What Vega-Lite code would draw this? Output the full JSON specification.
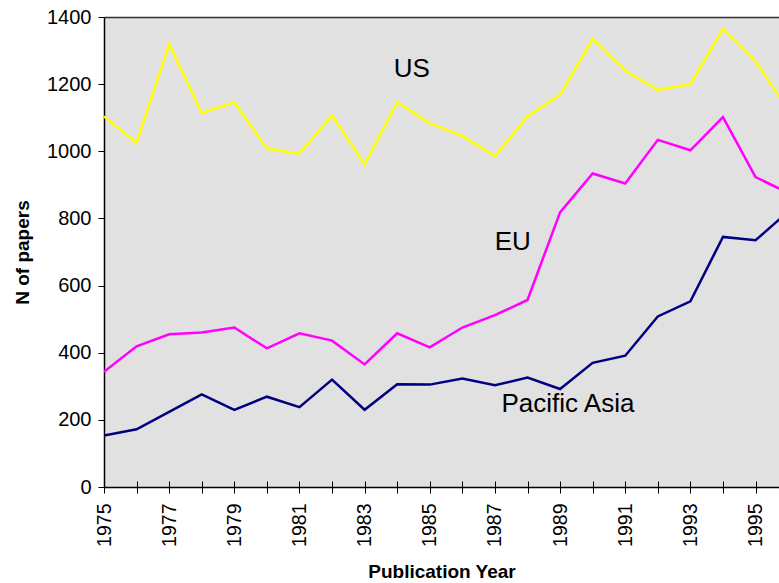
{
  "$schema": "https://vega.github.io/schema/vega-lite/v6.json",
  "width": 675,
  "height": 470,
  "autosize": "none",
  "padding": {"left": 104, "top": 17, "right": 0, "bottom": 96},
  "background": "#ffffff",
  "config": {
    "view": {"stroke": null, "fill": "#e1e1e1"},
    "font": "Liberation Sans",
    "axis": {"grid": false, "domainColor": "#000000", "tickColor": "#000000", "labelColor": "#000000", "titleColor": "#000000", "labelFont": "Liberation Sans", "titleFont": "Liberation Sans"}
  },
  "datasets": {
    "series": [
      {"year": 1975, "region": "US", "papers": 1104},
      {"year": 1976, "region": "US", "papers": 1025},
      {"year": 1977, "region": "US", "papers": 1320},
      {"year": 1978, "region": "US", "papers": 1114},
      {"year": 1979, "region": "US", "papers": 1146},
      {"year": 1980, "region": "US", "papers": 1008},
      {"year": 1981, "region": "US", "papers": 993},
      {"year": 1982, "region": "US", "papers": 1107},
      {"year": 1983, "region": "US", "papers": 961},
      {"year": 1984, "region": "US", "papers": 1146},
      {"year": 1985, "region": "US", "papers": 1084},
      {"year": 1986, "region": "US", "papers": 1046},
      {"year": 1987, "region": "US", "papers": 985},
      {"year": 1988, "region": "US", "papers": 1104},
      {"year": 1989, "region": "US", "papers": 1168},
      {"year": 1990, "region": "US", "papers": 1335},
      {"year": 1991, "region": "US", "papers": 1240},
      {"year": 1992, "region": "US", "papers": 1183},
      {"year": 1993, "region": "US", "papers": 1200},
      {"year": 1994, "region": "US", "papers": 1365},
      {"year": 1995, "region": "US", "papers": 1268},
      {"year": 1996, "region": "US", "papers": 1125},
      {"year": 1975, "region": "EU", "papers": 343},
      {"year": 1976, "region": "EU", "papers": 419},
      {"year": 1977, "region": "EU", "papers": 455},
      {"year": 1978, "region": "EU", "papers": 460},
      {"year": 1979, "region": "EU", "papers": 475},
      {"year": 1980, "region": "EU", "papers": 413},
      {"year": 1981, "region": "EU", "papers": 458},
      {"year": 1982, "region": "EU", "papers": 436},
      {"year": 1983, "region": "EU", "papers": 365},
      {"year": 1984, "region": "EU", "papers": 458},
      {"year": 1985, "region": "EU", "papers": 416},
      {"year": 1986, "region": "EU", "papers": 475},
      {"year": 1987, "region": "EU", "papers": 512},
      {"year": 1988, "region": "EU", "papers": 557},
      {"year": 1989, "region": "EU", "papers": 818},
      {"year": 1990, "region": "EU", "papers": 934},
      {"year": 1991, "region": "EU", "papers": 904},
      {"year": 1992, "region": "EU", "papers": 1034},
      {"year": 1993, "region": "EU", "papers": 1003},
      {"year": 1994, "region": "EU", "papers": 1102},
      {"year": 1995, "region": "EU", "papers": 923},
      {"year": 1996, "region": "EU", "papers": 876},
      {"year": 1975, "region": "Pacific Asia", "papers": 153},
      {"year": 1976, "region": "Pacific Asia", "papers": 172},
      {"year": 1977, "region": "Pacific Asia", "papers": 224},
      {"year": 1978, "region": "Pacific Asia", "papers": 276},
      {"year": 1979, "region": "Pacific Asia", "papers": 230},
      {"year": 1980, "region": "Pacific Asia", "papers": 269},
      {"year": 1981, "region": "Pacific Asia", "papers": 238},
      {"year": 1982, "region": "Pacific Asia", "papers": 320},
      {"year": 1983, "region": "Pacific Asia", "papers": 230},
      {"year": 1984, "region": "Pacific Asia", "papers": 306},
      {"year": 1985, "region": "Pacific Asia", "papers": 305},
      {"year": 1986, "region": "Pacific Asia", "papers": 323},
      {"year": 1987, "region": "Pacific Asia", "papers": 303},
      {"year": 1988, "region": "Pacific Asia", "papers": 326},
      {"year": 1989, "region": "Pacific Asia", "papers": 292},
      {"year": 1990, "region": "Pacific Asia", "papers": 370},
      {"year": 1991, "region": "Pacific Asia", "papers": 391},
      {"year": 1992, "region": "Pacific Asia", "papers": 508},
      {"year": 1993, "region": "Pacific Asia", "papers": 553},
      {"year": 1994, "region": "Pacific Asia", "papers": 745},
      {"year": 1995, "region": "Pacific Asia", "papers": 735},
      {"year": 1996, "region": "Pacific Asia", "papers": 820}
    ],
    "labels": [
      {"label": "US", "year": 1984.45, "papers": 1220},
      {"label": "EU", "year": 1987.55, "papers": 706},
      {"label": "Pacific Asia", "year": 1989.24, "papers": 223}
    ]
  },
  "resolve": {"axis": {"x": "independent", "y": "independent"}},
  "layer": [
    {
      "data": {"name": "series"},
      "mark": {"type": "line", "clip": true, "strokeWidth": 2.5},
      "encoding": {
        "x": {
          "field": "year", "type": "quantitative",
          "scale": {"domain": [1975, 1995.72], "nice": false, "zero": false},
          "axis": {
            "orient": "bottom",
            "values": [1975, 1976, 1977, 1978, 1979, 1980, 1981, 1982, 1983, 1984, 1985, 1986, 1987, 1988, 1989, 1990, 1991, 1992, 1993, 1994, 1995],
            "format": "d",
            "labelExpr": "datum.value % 2 == 1 ? datum.label : ''",
            "labelAngle": -90,
            "labelAlign": "right",
            "labelBaseline": "middle",
            "labelFontSize": 19.5,
            "labelPadding": 10,
            "labelFlush": false,
            "labelOverlap": false,
            "tickSize": 6,
            "tickWidth": 1,
            "domainWidth": 1.3,
            "title": "Publication Year",
            "titleFontSize": 19,
            "titleFontWeight": "bold",
            "titlePadding": 16
          }
        },
        "y": {
          "field": "papers", "type": "quantitative",
          "scale": {"domain": [0, 1400], "nice": false, "zero": true},
          "axis": {
            "orient": "left",
            "values": [0, 200, 400, 600, 800, 1000, 1200, 1400],
            "format": "d",
            "labelFontSize": 20,
            "labelPadding": 7,
            "tickSize": 6,
            "tickWidth": 1,
            "domainWidth": 1.5,
            "title": "N of papers",
            "titleFontSize": 19,
            "titleFontWeight": "bold",
            "titlePadding": 14
          }
        },
        "color": {
          "field": "region", "type": "nominal",
          "scale": {"domain": ["US", "EU", "Pacific Asia"], "range": ["#ffff00", "#ff00ff", "#000080"]},
          "legend": null
        }
      }
    },
    {
      "data": {"name": "series"},
      "mark": {"type": "line", "clip": true, "opacity": 0},
      "encoding": {
        "x": {
          "field": "year", "type": "quantitative",
          "axis": {
            "orient": "bottom",
            "offset": -6,
            "values": [1975, 1976, 1977, 1978, 1979, 1980, 1981, 1982, 1983, 1984, 1985, 1986, 1987, 1988, 1989, 1990, 1991, 1992, 1993, 1994, 1995],
            "labels": false,
            "domain": false,
            "ticks": true,
            "tickSize": 6,
            "tickWidth": 1,
            "title": null
          }
        },
        "y": {"field": "papers", "type": "quantitative", "axis": null},
        "detail": {"field": "region"}
      }
    },
    {
      "data": {"name": "series"},
      "mark": {"type": "line", "clip": true, "opacity": 0},
      "encoding": {
        "x": {
          "field": "year", "type": "quantitative",
          "axis": {
            "orient": "top",
            "labels": false,
            "ticks": false,
            "domain": true,
            "domainColor": "#333333",
            "domainWidth": 1.5,
            "title": null
          }
        },
        "y": {"field": "papers", "type": "quantitative", "axis": null},
        "detail": {"field": "region"}
      }
    },
    {
      "data": {"name": "labels"},
      "mark": {"type": "text", "fontSize": 26, "align": "center", "baseline": "alphabetic", "color": "#000000", "font": "Liberation Sans"},
      "encoding": {
        "x": {"field": "year", "type": "quantitative", "axis": null},
        "y": {"field": "papers", "type": "quantitative", "axis": null},
        "text": {"field": "label"}
      }
    }
  ]
}
